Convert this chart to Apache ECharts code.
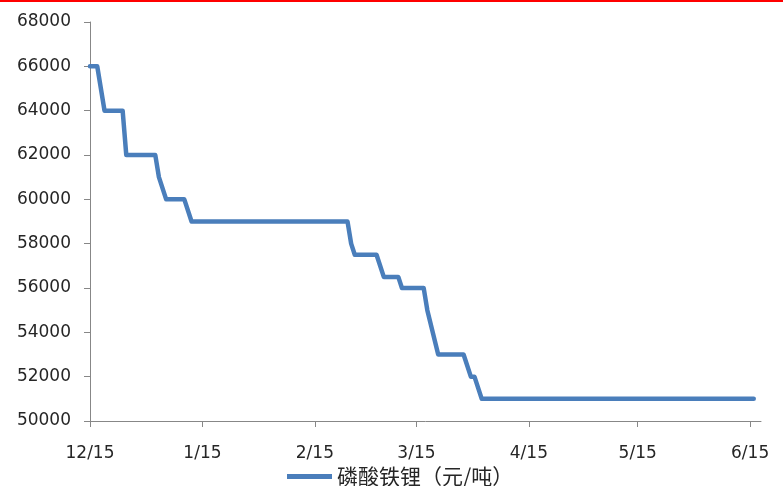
<!DOCTYPE html>
<html>
<head>
<meta charset="utf-8">
<script src="https://cdn.jsdelivr.net/npm/echarts@6/dist/echarts.min.js"></script>
<style>
  html, body { margin: 0; padding: 0; background: #ffffff; }
  #chart { width: 783px; height: 486px; }
</style>
</head>
<body>
<div id="chart"></div>
<script>
// LFP (lithium iron phosphate) price, yuan per tonne
const seriesName = '磷酸铁锂（元/吨）';

// Dates where the price line changes direction, with the price on that day
const priceDates = [
  '2022-12-15', '2022-12-17', '2022-12-19', '2022-12-24', '2022-12-25',
  '2023-01-02', '2023-01-03', '2023-01-05', '2023-01-10', '2023-01-12',
  '2023-02-24', '2023-02-25', '2023-02-26', '2023-03-04', '2023-03-06',
  '2023-03-10', '2023-03-11', '2023-03-17', '2023-03-18', '2023-03-21',
  '2023-03-28', '2023-03-30', '2023-03-31', '2023-04-02', '2023-06-16'
];
const priceValues = [
  66000, 66000, 64000, 64000, 62000,
  62000, 61000, 60000, 60000, 59000,
  59000, 58000, 57500, 57500, 56500,
  56500, 56000, 56000, 55000, 53000,
  53000, 52000, 52000, 51000, 51000
];

// Horizontal axis: mid-month ticks
const tickDates = ['2022-12-15', '2023-01-15', '2023-02-15', '2023-03-15', '2023-04-15', '2023-05-15', '2023-06-15'];
const tickLabels = ['12/15', '1/15', '2/15', '3/15', '4/15', '5/15', '6/15'];
const axisStart = '2022-12-15';
const axisEnd = '2023-06-18';

// Vertical axis range
const yMin = 50000;
const yMax = 68000;
const yStep = 2000;

function pad(n) { return (n < 10 ? '0' : '') + n; }
function dayKey(d) { return d.getFullYear() + '-' + pad(d.getMonth() + 1) + '-' + pad(d.getDate()); }

// One category per calendar day so the axis is evenly spaced in time
const dayCategories = [];
(function () {
  const s = axisStart.split('-').map(Number);
  const e = axisEnd.split('-').map(Number);
  const d = new Date(s[0], s[1] - 1, s[2]);
  const end = new Date(e[0], e[1] - 1, e[2]);
  while (d <= end) {
    dayCategories.push(dayKey(d));
    d.setDate(d.getDate() + 1);
  }
})();

const lineData = priceDates.map((d, i) => [d, priceValues[i]]);

function isTick(idx) { return tickDates.indexOf(dayCategories[idx]) >= 0; }

const axisColor = '#878787';
const textColor = '#262626';
const numFont = 'DejaVu Sans';

const chart = echarts.init(document.getElementById('chart'), null, { renderer: 'canvas' });

chart.setOption({
  animation: false,
  backgroundColor: '#ffffff',
  graphic: [{
    type: 'rect',
    left: 0,
    top: 0,
    shape: { width: 783, height: 2 },
    style: { fill: '#ff0000' },
    silent: true
  }],
  grid: { left: 90, right: 22, top: 22, bottom: 65 },
  legend: {
    left: 282,
    top: 461,
    icon: 'rect',
    itemWidth: 45,
    itemHeight: 5,
    textStyle: { fontFamily: 'Noto Sans CJK SC', fontSize: 21, color: textColor },
    data: [seriesName]
  },
  xAxis: {
    type: 'category',
    data: dayCategories,
    boundaryGap: false,
    splitLine: { show: false },
    axisLine: { show: true, lineStyle: { color: axisColor, width: 1 } },
    axisTick: {
      show: true,
      inside: false,
      length: 6,
      alignWithLabel: true,
      interval: function (idx) { return isTick(idx); },
      lineStyle: { color: axisColor }
    },
    axisLabel: {
      interval: function (idx) { return isTick(idx); },
      margin: 24,
      fontFamily: numFont,
      fontSize: 17,
      color: textColor,
      formatter: function (v) {
        const i = tickDates.indexOf(v);
        return i >= 0 ? tickLabels[i] : '';
      }
    }
  },
  yAxis: {
    type: 'value',
    min: yMin,
    max: yMax,
    interval: yStep,
    splitLine: { show: false },
    axisLine: { show: true, lineStyle: { color: axisColor, width: 1 } },
    axisTick: { show: true, inside: false, length: 6, lineStyle: { color: axisColor } },
    axisLabel: {
      margin: 19,
      fontFamily: numFont,
      fontSize: 17,
      color: textColor,
      formatter: function (v) { return String(v); }
    }
  },
  series: [{
    name: seriesName,
    type: 'line',
    data: lineData,
    showSymbol: false,
    symbol: 'none',
    color: '#4a7ebb',
    lineStyle: { width: 4.5, color: '#4a7ebb', join: 'round', cap: 'round' }
  }]
});
</script>
</body>
</html>
